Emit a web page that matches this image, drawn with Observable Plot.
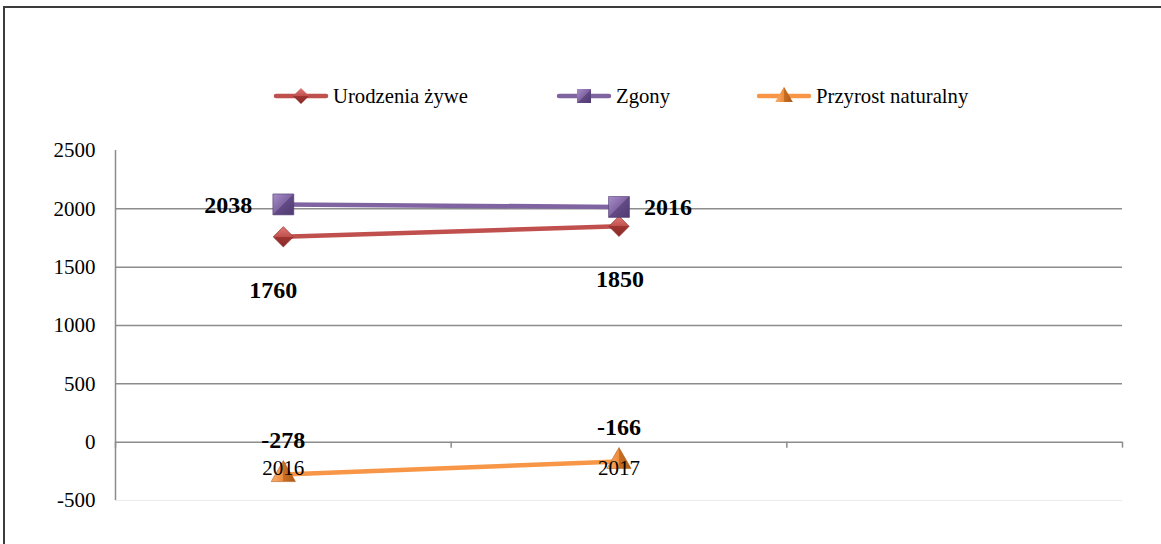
<!DOCTYPE html>
<html><head><meta charset="utf-8">
<script src="https://cdn.jsdelivr.net/npm/d3@7"></script>
<script src="https://cdn.jsdelivr.net/npm/@observablehq/plot@0.6"></script>
<style>
html,body{margin:0;padding:0;background:#fff;overflow:hidden;width:1161px;height:544px;}
#wrap{position:relative;width:1161px;height:544px;overflow:hidden;}
#chart{position:absolute;left:0;top:0;}
#border{position:absolute;left:3px;top:6px;width:1200px;height:600px;border-top:2px solid #3c3c3c;border-left:2px solid #3c3c3c;box-sizing:border-box;}
#legend{position:absolute;top:83px;left:0;width:1161px;height:26px;font-family:"Liberation Serif","Times New Roman",serif;font-size:20.7px;color:#000;}
.item{position:absolute;top:0;height:26px;display:flex;align-items:center;white-space:nowrap;}
.item svg{display:block;margin-right:4px;}
</style></head><body>
<div id="wrap"><div id="chart"></div><div id="border"></div><div id="legend"></div></div>
<script>
// ---- data ----
const categories = ["2016", "2017"];
const seriesNames = ["Urodzenia żywe", "Zgony", "Przyrost naturalny"];
const urodzenia = [1760, 1850];
const zgony = [2038, 2016];
const przyrost = [-278, -166];
const yTicks = [-500, 0, 500, 1000, 1500, 2000, 2500];
const colors = ["#C0504D", "#8064A2", "#F79646"];

// ---- table ----
const seriesValues = [urodzenia, zgony, przyrost];
const rows = [];
seriesNames.forEach((s, k) => categories.forEach((c, i) => rows.push({series: s, cat: c, x: i + 0.5, value: seriesValues[k][i]})));
const bands = categories.length + 1; // one empty category band on the right, as in the reference
const boundaries = d3.range(bands + 1);

const font = "'Liberation Serif','Times New Roman',serif";
const of = (s) => rows.filter(d => d.series === s);
const pt = (s, c) => rows.filter(d => d.series === s && d.cat === c);
const lab = (d) => String(d.value);
const labelStyle = {x: "x", y: "value", text: lab, fontSize: 24, fontWeight: "bold", fontFamily: font, fill: "#000"};

const plot = Plot.plot({
  width: 1161, height: 544,
  marginTop: 150, marginBottom: 44, marginLeft: 115, marginRight: 39,
  x: {domain: [0, bands], axis: null, label: null},
  y: {domain: [-500, 2500], label: null},
  color: {domain: seriesNames, range: colors},
  style: {fontFamily: font, fontSize: "21px", color: "#000", background: "transparent"},
  marks: [
    Plot.ruleY([-500], {x1: 0, x2: bands, stroke: "#ebebeb", strokeWidth: 1}),
    Plot.ruleY(yTicks.filter(v => v > -500 && v < 2500), {x1: 0, x2: bands, stroke: "#8c8c8c", strokeWidth: 1.5}),
    Plot.ruleX([0], {y1: -500, y2: 2500, stroke: "#8c8c8c", strokeWidth: 1.5}),
    Plot.ruleX(boundaries, {x: d => d, y1: 0, y2: 0, insetBottom: -6, stroke: "#8c8c8c", strokeWidth: 1.5}),
    Plot.axisY({ticks: yTicks, tickSize: 0, tickPadding: 20, tickFormat: d => String(d), label: null, fontSize: 21, fontFamily: font, fill: "#000"}),
    Plot.line(rows, {x: "x", y: "value", z: "series", stroke: "series", strokeWidth: 4.5, strokeLinecap: "round"}),
    Plot.dot(of(seriesNames[0]), {x: "x", y: "value", symbol: "diamond2", r: 9.2, fill: "url(#gRed)", stroke: "#8e2f2c", strokeWidth: 0.6}),
    Plot.dot(of(seriesNames[1]), {x: "x", y: "value", symbol: "square", r: 11.8, fill: "url(#gPurple)", stroke: "#4f3a70", strokeWidth: 0.6}),
    Plot.dot(of(seriesNames[2]), {x: "x", y: "value", symbol: "triangle", r: 9, fill: "url(#gOrange)", stroke: "#b0601c", strokeWidth: 0.6}),
    Plot.text(categories, {x: (d, i) => i + 0.5, y: () => 0, text: d => d, dy: 26, fontSize: 21, fontFamily: font, fill: "#000"}),
    // data labels
    Plot.text(pt(seriesNames[1], "2016"), {...labelStyle, textAnchor: "end", dx: -31, dy: 1}),
    Plot.text(pt(seriesNames[1], "2017"), {...labelStyle, textAnchor: "start", dx: 25, dy: 0}),
    Plot.text(pt(seriesNames[0], "2016"), {...labelStyle, dx: -10, dy: 53}),
    Plot.text(pt(seriesNames[0], "2017"), {...labelStyle, dx: 1, dy: 53}),
    Plot.text(of(seriesNames[2]), {...labelStyle, dy: -34})
  ]
});

// gradients for bevelled markers
const defs = `
<linearGradient id="gRed" x1="0" y1="0" x2="0" y2="1"><stop offset="0" stop-color="#e07a76"/><stop offset="0.5" stop-color="#c0504d"/><stop offset="0.5" stop-color="#9e3532"/><stop offset="1" stop-color="#8a2a27"/></linearGradient>
<linearGradient id="gPurple" x1="0" y1="0" x2="1" y2="1"><stop offset="0" stop-color="#a78fca"/><stop offset="0.5" stop-color="#8064a2"/><stop offset="0.5" stop-color="#634a86"/><stop offset="1" stop-color="#4f3a70"/></linearGradient>
<linearGradient id="gOrange" x1="0" y1="0" x2="1" y2="0"><stop offset="0" stop-color="#f9b070"/><stop offset="0.5" stop-color="#ee8a3a"/><stop offset="0.5" stop-color="#c96f22"/><stop offset="1" stop-color="#a9591a"/></linearGradient>`;
const d = document.createElementNS("http://www.w3.org/2000/svg", "defs");
d.innerHTML = defs;
plot.insertBefore(d, plot.firstChild);
document.getElementById("chart").appendChild(plot);

// legend
const legendLeft = [273, 556, 756];
const legendSymbols = [d3.symbolDiamond2, d3.symbolSquare, d3.symbolTriangle];
const legendSizes = [165, 196, 135];
const legendFills = ["url(#gRed)", "url(#gPurple)", "url(#gOrange)"];
const legend = document.getElementById("legend");
seriesNames.forEach((s, k) => {
  const item = document.createElement("div");
  item.className = "item";
  item.style.left = legendLeft[k] + "px";
  const path = d3.symbol(legendSymbols[k], legendSizes[k])();
  item.innerHTML = `<svg width="56" height="22" viewBox="0 0 56 22">
    <line x1="3" y1="11" x2="53" y2="11" stroke="${colors[k]}" stroke-width="4.5" stroke-linecap="round"/>
    <path d="${path}" transform="translate(28,${k === 2 ? 12 : 11})" fill="${legendFills[k]}"/></svg><span>${s}</span>`;
  legend.appendChild(item);
});
</script>
</body></html>
